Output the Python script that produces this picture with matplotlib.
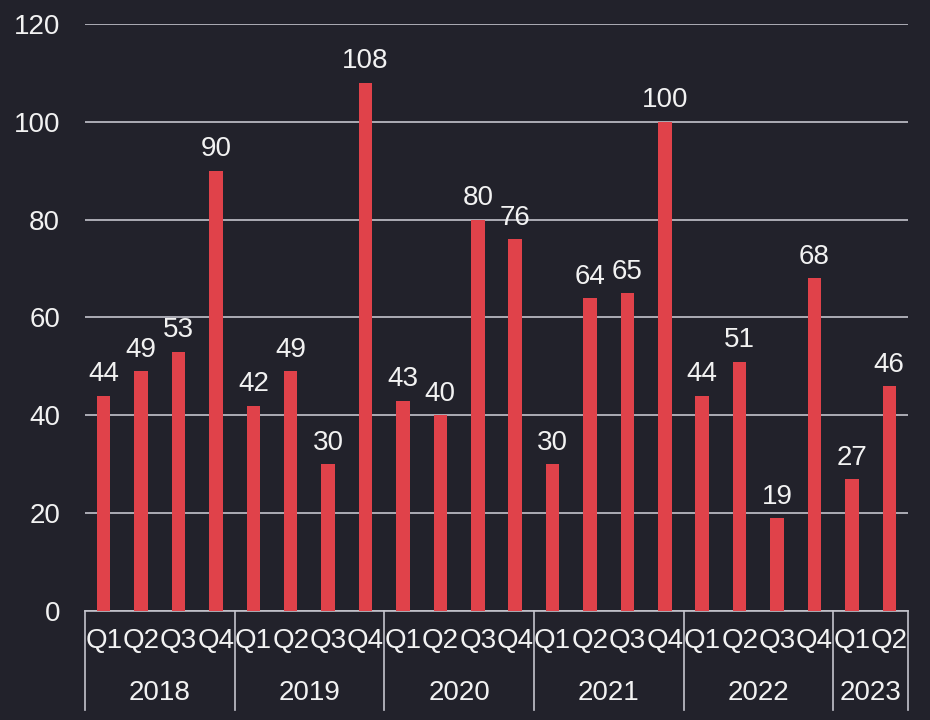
import matplotlib

matplotlib.use("Agg")
import matplotlib.pyplot as plt
import matplotlib.transforms as mtransforms

plt.rcParams["font.family"] = ["Liberation Sans", "DejaVu Sans"]

# data
years = ["2018", "2019", "2020", "2021", "2022", "2023"]
quarters_per_year = [4, 4, 4, 4, 4, 2]
quarter_labels = ["Q1", "Q2", "Q3", "Q4"] * 5 + ["Q1", "Q2"]
values = [44, 49, 53, 90, 42, 49, 30, 108, 43, 40, 80, 76,
          30, 64, 65, 100, 44, 51, 19, 68, 27, 46]

BG = "#22222b"
BAR = "#e0424a"
GRID = "#c4c4cc"
TEXT = "#f2f2f2"
FS = 20

fig = plt.figure(figsize=(9.3, 7.2), dpi=100, facecolor=BG)
ax = fig.add_axes([0.0914, 0.1514, 0.8849, 0.8153], facecolor=BG)

x = list(range(len(values)))
bars = ax.bar(x, values, width=0.36, color=BAR, zorder=3)
for rect, v in zip(bars, values):
    ax.annotate(str(v), (rect.get_x() + rect.get_width() / 2, rect.get_height()),
                xytext=(0, 6), textcoords="offset points", ha="center", va="bottom",
                color=TEXT, fontsize=FS, zorder=4)

ax.set_xlim(-0.5, len(values) - 0.5)
ax.set_ylim(0, 120)
ax.set_yticks(range(0, 121, 20))
ax.yaxis.grid(True, color=GRID, linewidth=1.2, zorder=0)
ax.set_axisbelow(True)
for side in ["left", "right", "top"]:
    ax.spines[side].set_visible(False)
ax.spines["bottom"].set_color(GRID)
ax.spines["bottom"].set_linewidth(1.2)

ax.tick_params(axis="y", length=0, pad=18, labelsize=FS, labelcolor=TEXT)
ax.set_xticks(x)
ax.set_xticklabels(quarter_labels)
ax.tick_params(axis="x", length=0, pad=12, labelsize=FS, labelcolor=TEXT)

# year group labels and separators below the axis
trans = mtransforms.blended_transform_factory(ax.transData, ax.transAxes)
start = -0.5
edges = [start]
for year, n in zip(years, quarters_per_year):
    end = start + n
    ax.text((start + end) / 2, -0.14, year, transform=trans, ha="center", va="center",
            color=TEXT, fontsize=FS)
    edges.append(end)
    start = end
for e in edges:
    ax.plot([e, e], [0, -0.169], transform=trans, color=GRID, linewidth=1.2, clip_on=False)

fig.savefig("out.png", dpi=100, facecolor=BG)
